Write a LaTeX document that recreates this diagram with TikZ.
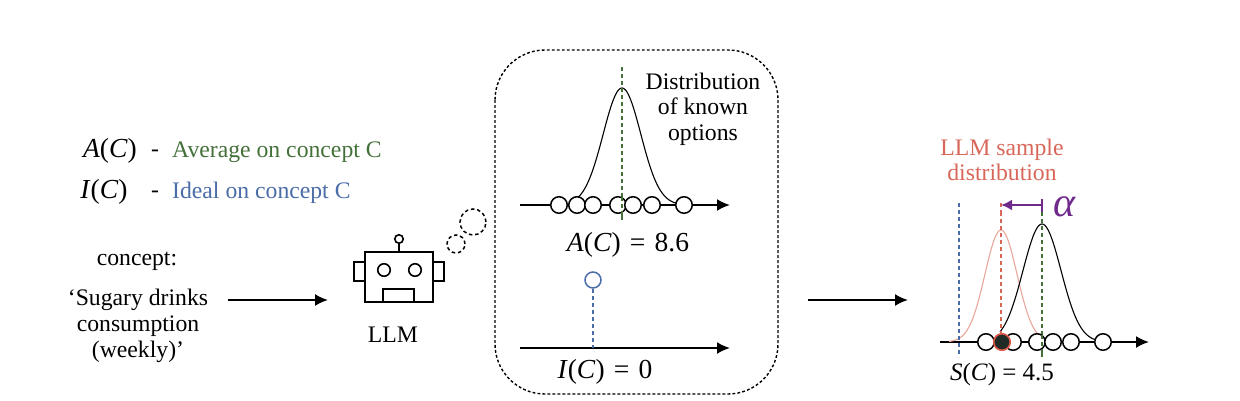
\documentclass[tikz,border=0pt]{standalone}
\usepackage{fontspec}
\setmainfont{Liberation Serif}
\usetikzlibrary{arrows.meta,calc}
\definecolor{gr}{HTML}{44703A}
\definecolor{bl}{HTML}{4A6DA7}
\definecolor{rd}{HTML}{D8675A}
\definecolor{rdl}{HTML}{E9A79C}
\definecolor{dot}{HTML}{E0574A}
\definecolor{pu}{HTML}{702A8C}
\definecolor{ink}{HTML}{1F2B24}
\newcommand{\fsz}[1]{\fontsize{#1}{#1}\selectfont}
\newcommand{\mv}[1]{\textit{#1}}
\newcommand{\eqs}{\hspace{9.2pt}=\hspace{9.2pt}}
\tikzset{
 txt/.style={inner sep=0pt,align=center,font=\fsz{23.7}},
 lead/.style={txt,anchor=west},
 formula/.style={inner sep=0pt,font=\fsz{27.5}},
 axis/.style={line width=2pt,-{Latex[length=13pt,width=12pt]}},
 flow/.style={line width=1.9pt,-{Latex[length=13pt,width=12pt]}},
 opt/.style={circle,draw=black,fill=white,line width=1.5pt,minimum size=16.5pt,inner sep=0pt},
 vdash/.style={line width=2.4pt,dash pattern=on 4pt off 3pt},
 robot/.style={draw=black,line width=2pt,fill=white},
 bubble/.style={circle,draw=black,line width=1.5pt,dash pattern=on 3.5pt off 2.8pt,inner sep=0pt},
 curve/.style={line width=1.1pt,samples=80,smooth},
}
\begin{document}
\begin{tikzpicture}[x=1pt,y=-1pt]
\useasboundingbox (0,0) rectangle (1240,400);
% legend
\node[formula] (la) at (110,151) {\mv{A}(\mv{C})};
\node[txt] (da) at (155,153) {-};
\node[lead,text=gr] (ta) at (172,152) {Average on concept C};
\node[formula] (li) at (104,192) {\mv{I}(\mv{C})};
\node[txt] (di) at (155,194) {-};
\node[lead,text=bl] (ti) at (172,193) {Ideal on concept C};
% concept
\node[txt] (c0) at (137,261) {concept:};
\node[txt] (c1) at (138,300) {‘Sugary drinks};
\node[txt] (c2) at (138,326) {consumption};
\node[txt] (c3) at (138,352) {(weekly)’};
% robot
\draw[robot] (354,262) rectangle (365,281);
\draw[robot] (433,262) rectangle (444,281);
\draw[robot] (365,252) rectangle (433,302);
\draw[robot] (383,289) rectangle (414,302);
\node[circle,robot,minimum size=12.5pt,inner sep=0pt,line width=1.6pt] (e1) at (384,270) {};
\node[circle,robot,minimum size=12.5pt,inner sep=0pt,line width=1.6pt] (e2) at (415,270) {};
\node[circle,robot,minimum size=8.5pt,inner sep=0pt,line width=1.6pt] (ant) at (399,239) {};
\coordinate (antb) at (399,252);
\draw[line width=1.6pt] (ant) -- (antb);
\node[txt] (llm) at (393,335) {LLM};
\node[bubble,minimum size=26pt] (b1) at (473,222) {};
\node[bubble,minimum size=18pt] (b2) at (456,244) {};
% flow arrows
\coordinate (f1a) at (228,300); \coordinate (f1b) at (328,300);
\coordinate (f2a) at (808,300); \coordinate (f2b) at (908,300);
\draw[flow] (f1a) -- (f1b);
\draw[flow] (f2a) -- (f2b);
% dotted box
\draw[line width=1.4pt,dash pattern=on 2.8pt off 2.2pt,rounded corners=50pt] (495,50) rectangle (778,394);
% upper middle panel
\coordinate (ua) at (520,205); \coordinate (ub) at (730,205);
\draw[axis] (ua) -- (ub);
\draw[curve,shift={(622,205)}] plot[domain=-48:54] (\x,{-117*exp(-(\x*\x)/(2*18.8*18.8))});
\coordinate (g1) at (622,67); \coordinate (g2) at (622,220);
\draw[vdash,gr] (g1) -- (g2);
\foreach \n/\p in {a/559,b/577,c/593,d/618,e/633,f/652,g/684}
  \node[opt] (u\n) at (\p,205) {};
\draw[vdash,gr] (622,197) -- (g2);
\node[txt] (dist) at (703,109) {Distribution\\[1.8pt]of known\\[1.8pt]options};
\node[formula] (av) at (628,245) {\mv{A}(\mv{C})\eqs 8.6};
% lower middle panel
\coordinate (la1) at (520,348); \coordinate (la2) at (730,348);
\draw[axis] (la1) -- (la2);
\node[circle,draw=bl,fill=white,line width=1.5pt,minimum size=16pt,inner sep=0pt] (ideal) at (593,280) {};
\coordinate (ib) at (593,348);
\draw[line width=2.1pt,bl,dash pattern=on 4pt off 3pt] (ideal) -- (ib);
\node[formula] (id) at (605,372) {\mv{I}(\mv{C})\eqs 0};
% right panel
\node[txt,text=rd] (samp) at (1002,160) {LLM sample\\[1.5pt]distribution};
\coordinate (ra) at (940,342); \coordinate (rb) at (1149,342);
\draw[axis] (ra) -- (rb);
\draw[curve,rdl,shift={(1001,342)}] plot[domain=-52:37] (\x,{-112*exp(-(\x*\x)/(2*16*16))});
\draw[curve,black,shift={(1042,342)}] plot[domain=-42:54] (\x,{-118*exp(-(\x*\x)/(2*19*19))});
\coordinate (bl1) at (959,203); \coordinate (bl2) at (959,357);
\draw[vdash,bl] (bl1) -- (bl2);
\coordinate (re1) at (1001,212); \coordinate (re2) at (1001,336);
\draw[vdash,rd] (re1) -- (re2);
\coordinate (gr1) at (1042,212); \coordinate (gr2) at (1042,357);
\draw[vdash,gr] (gr1) -- (gr2);
\foreach \n/\p in {a/986,c/1013,d/1037,e/1053,f/1071,g/1103}
  \node[opt] (r\n) at (\p,342) {};
\draw[vdash,gr] (1042,335) -- (gr2);
\node[circle,draw=dot,fill=ink,line width=1.6pt,minimum size=16.5pt,inner sep=0pt] (rb0) at (1002,342) {};
\coordinate (al1) at (1042,205); \coordinate (al2) at (1001,205);
\draw[line width=2.1pt,pu,-{Latex[length=11pt,width=11pt]}] (al1) -- (al2);
\coordinate (bar1) at (1042,199); \coordinate (bar2) at (1042,212);
\draw[line width=1.8pt,pu] (bar1) -- (bar2);
\coordinate (rt) at (1001,203);
\draw[vdash,rd] (rt) -- (re1);
\node[inner sep=0pt,text=pu,font=\fsz{42}] (alpha) at (1065,207) {\mv{α}};
\node[inner sep=0pt,font=\fsz{25}] (sc) at (1002,374) {\mv{S}(\mv{C}) = 4.5};
\end{tikzpicture}
\end{document}
